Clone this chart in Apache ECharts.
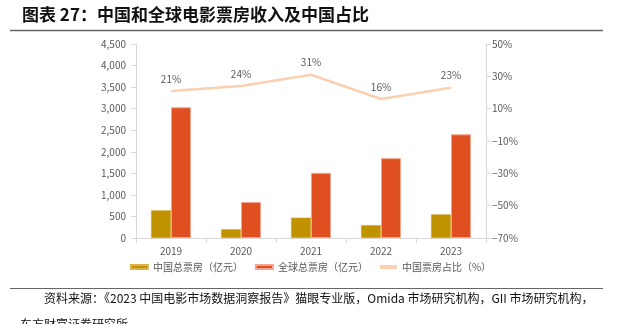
<!DOCTYPE html>
<html><head><meta charset="utf-8">
<script src="https://cdn.jsdelivr.net/npm/echarts@6/dist/echarts.min.js"></script>
<style>html,body{margin:0;padding:0;background:#fff}#c{width:621px;height:324px}</style>
</head><body><div id="c"></div>
<script>
const years = ['2019','2020','2021','2022','2023'];
const chinaBox = [643, 204, 472, 300, 549];
const globalBox = [3032, 835, 1512, 1852, 2405];
const chinaShare = [21, 24, 31, 16, 23];
const leftTicks = [0, 4500, 500];
const rightTicks = [-70, 50, 20];
const titleText = '图表 27：中国和全球电影票房收入及中国占比';
const sourceText = '资料来源：《2023 中国电影市场数据洞察报告》猫眼专业版，Omida 市场研究机构，GII 市场研究机构，';
const sourceText2 = '东方财富证券研究所';

const font = '"Noto Sans CJK SC", sans-serif';
const chart = echarts.init(document.getElementById('c'), null, {renderer:'canvas'});
chart.setOption({
  animation:false,
  textStyle:{fontFamily:font},
  grid:{left:136, right:135, top:44, bottom:86},
  graphic:[
    {type:'text', left:22, top:6, style:{text:titleText, font:'bold 17px "Noto Sans CJK SC"', fill:'#111'}},
    {type:'line', shape:{x1:10,y1:30.5,x2:603,y2:30.5}, style:{stroke:'#666', lineWidth:1.5}},
    {type:'line', shape:{x1:10,y1:288.5,x2:603,y2:288.5}, style:{stroke:'#666', lineWidth:1}},
    {type:'text', left:44, top:292, style:{text:sourceText, font:'12px "Noto Sans CJK SC"', fill:'#111'}},
    {type:'text', left:20, top:318, style:{text:sourceText2, font:'12px "Noto Sans CJK SC"', fill:'#111'}}
  ],
  legend:{
    bottom:47, left:'center', itemGap:12, itemWidth:17, itemHeight:4,
    textStyle:{fontSize:10, color:'#595959', fontFamily:font},
    data:[
      {name:'中国总票房（亿元）', icon:'rect'},
      {name:'全球总票房（亿元）', icon:'rect'},
      {name:'中国票房占比（%）', icon:'rect'}
    ]
  },
  xAxis:{type:'category', data:years,
    axisLine:{lineStyle:{color:'#D9D9D9'}},
    axisTick:{show:true, alignWithLabel:false, lineStyle:{color:'#D9D9D9'}},
    axisLabel:{color:'#595959', fontSize:10, margin:8}},
  yAxis:[
    {type:'value', min:leftTicks[0], max:leftTicks[1], interval:leftTicks[2],
      axisLine:{show:true, lineStyle:{color:'#D9D9D9'}},
      axisTick:{show:true, lineStyle:{color:'#D9D9D9'}},
      splitLine:{show:false},
      axisLabel:{color:'#595959', fontSize:10, margin:10,
        formatter:v=>v.toLocaleString('en-US')}},
    {type:'value', min:rightTicks[0], max:rightTicks[1], interval:rightTicks[2],
      axisLine:{show:true, lineStyle:{color:'#D9D9D9'}},
      axisTick:{show:true, lineStyle:{color:'#D9D9D9'}},
      splitLine:{show:false},
      axisLabel:{color:'#595959', fontSize:10, margin:6,
        formatter:v=>(v<0?'\u2212'+(-v):v)+'%'}}
  ],
  series:[
    {name:'中国总票房（亿元）', type:'bar', data:chinaBox, barWidth:20, barGap:'0%',
      itemStyle:{color:'#C09200', borderColor:'#D9B24D', borderWidth:0.5}},
    {name:'全球总票房（亿元）', type:'bar', data:globalBox, barWidth:20,
      itemStyle:{color:'#DF4F1F', borderColor:'#F2A58C', borderWidth:1}},
    {name:'中国票房占比（%）', type:'line', yAxisIndex:1, data:chinaShare,
      symbol:'circle', symbolSize:0.1, showSymbol:true,
      lineStyle:{color:'#FBD0B0', width:2.5},
      itemStyle:{color:'#FBD0B0'},
      label:{show:true, position:'top', distance:7, color:'#595959', fontSize:10,
        formatter:p=>p.value+'%'}}
  ]
});
</script></body></html>
